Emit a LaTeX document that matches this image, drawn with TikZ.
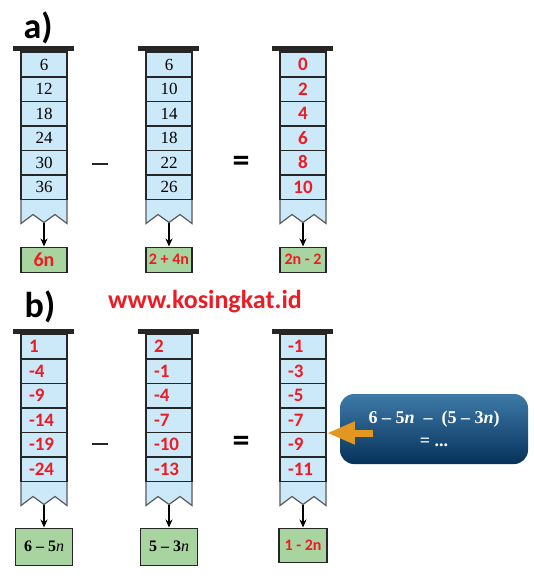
\documentclass[tikz,border=0pt]{standalone}
\usepackage{fontspec}
\setmainfont{Liberation Serif}
\newfontfamily\calib{Carlito}
\usetikzlibrary{positioning,arrows.meta}
\definecolor{cellblue}{RGB}{204,233,250}
\definecolor{resgreen}{RGB}{168,212,160}
\definecolor{numred}{RGB}{237,28,36}
\definecolor{noteblue}{RGB}{12,78,126}
\definecolor{notelight}{RGB}{62,122,168}
\definecolor{notedark}{RGB}{6,50,90}
\definecolor{pointorange}{RGB}{226,152,32}
\pgfkeys{tikz/cellbox/.style={draw=black!85,line width=1.5pt,fill=cellblue,minimum width=46pt,minimum height=24.5pt,text width=30pt,inner xsep=8pt,inner ysep=0pt}}
\pgfkeys{tikz/serifnum/.style={align=center,font=\fontsize{17}{17}\selectfont}}
\pgfkeys{tikz/rednum/.style={align=center,text=numred,font=\calib\bfseries\fontsize{19}{19}\selectfont}}
\pgfkeys{tikz/rednumleft/.style={rednum,align=left}}
\pgfkeys{tikz/notch/.style={draw=black!65,line width=1.2pt,fill=cellblue}}
\pgfkeys{tikz/resbox/.style={draw=black!85,line width=1.5pt,fill=resgreen,minimum width=46pt,minimum height=25pt,inner sep=0pt}}
\pgfkeys{tikz/redres/.style={text=numred,font=\calib\bfseries\fontsize{16}{16}\selectfont}}
\pgfkeys{tikz/serifres/.style={font=\bfseries\fontsize{16}{16}\selectfont}}
\pgfkeys{tikz/drop/.style={line width=1.4pt,-{Stealth[length=8pt,width=7pt]}}}
\pgfkeys{tikz/paneltxt/.style={inner sep=0pt,font=\calib\bfseries\fontsize{36}{36}\selectfont}}
\pgfkeys{tikz/opsign/.style={inner sep=0pt,font=\calib\bfseries\fontsize{34}{34}\selectfont}}
\newcommand*\tubecol[3][]{%
  \draw [notch] ([xshift=-23pt,yshift=-147pt]#2-top) -- ++(0,25) -- ++(12,-9) -- ++(11,8) coordinate (#2-tip) -- ++(11,-8) -- ++(12,9) -- ++(0,-25);
  \foreach \v [count=\i] in {#3} {%
    \node [cellbox,#1,anchor=north] (#2-\i) at ([yshift={-(\i-1)*24.5pt}]#2-top) {\v};
  }%
  \fill [black!85] ([xshift=-7pt]#2-1.north west) rectangle ([xshift=6pt,yshift=5pt]#2-1.north east);
}

\begin{document}
\begin{tikzpicture}[x=1pt,y=-1pt]
\useasboundingbox (0,0) rectangle (534,578);

% a)
\node [paneltxt] (lblA) at (38,28) {a)};
\coordinate (a1-top) at (44,51.5);
\coordinate (a2-top) at (169,51.5);
\coordinate (a3-top) at (303,51.5);
\tubecol[serifnum]{a1}{6,12,18,24,30,36}
\tubecol[serifnum]{a2}{6,10,14,18,22,26}
\tubecol[rednum]{a3}{0,2,4,6,8,10}

\fill [black!85] (92,163.3) rectangle (108,164.7);
\node [opsign] (eqA) at (241,164) {=};

\node [resbox,below=24pt of a1-tip] (a1-res) {\calib\bfseries\textcolor{numred}{\fontsize{20}{20}\selectfont 6n}};
\node [resbox,redres,below=24pt of a2-tip] (a2-res) {2 + 4n};
\node [resbox,redres,below=24pt of a3-tip] (a3-res) {2n - 2};
\foreach \c in {a1,a2,a3} \draw [drop] (\c-tip) -- (\c-res);

% b)
\node [paneltxt] (lblB) at (40,307) {b)};
\node [text=numred,font=\calib\bfseries\fontsize{26}{26}\selectfont] (web) at (205,302) {www.kosingkat.id};
\coordinate (b1-top) at (44,333.5);
\coordinate (b2-top) at (169,333.5);
\coordinate (b3-top) at (303,333.5);
\tubecol[rednumleft]{b1}{1,-4,-9,-14,-19,-24}
\tubecol[rednumleft]{b2}{2,-1,-4,-7,-10,-13}
\tubecol[rednumleft]{b3}{-1,-3,-5,-7,-9,-11}

\fill [black!85] (92,443.3) rectangle (108,444.7);
\node [opsign] (eqB) at (241,444) {=};

\node [resbox,serifres,minimum width=57pt,minimum height=37pt,below=23pt of b1-tip] (b1-res) {6 – 5\textmd{\textit{n}}};
\node [resbox,serifres,minimum width=57pt,minimum height=37pt,below=23pt of b2-tip] (b2-res) {5 – 3\textmd{\textit{n}}};
\node [resbox,redres,minimum width=48pt,minimum height=34pt,below=23pt of b3-tip] (b3-res) {1 - 2n};
\foreach \c in {b1,b2,b3} \draw [drop] (\c-tip) -- (\c-res);

% note box
\node [rounded corners=14pt,top color=notelight,middle color=noteblue,bottom color=notedark,minimum width=188pt,minimum height=70pt,text=white,align=center,font=\bfseries\fontsize{18}{23}\selectfont] (note) at (434,429) {6 – 5\textit{n} \ – \ (5 – 3\textit{n})\\= ...};
\coordinate (tail) at (373,433);
\draw [draw=pointorange,line width=7pt,-{Triangle[length=28pt,width=21pt]}] (tail) -- (tail -| b3-5.east);

\end{tikzpicture}
\end{document}
